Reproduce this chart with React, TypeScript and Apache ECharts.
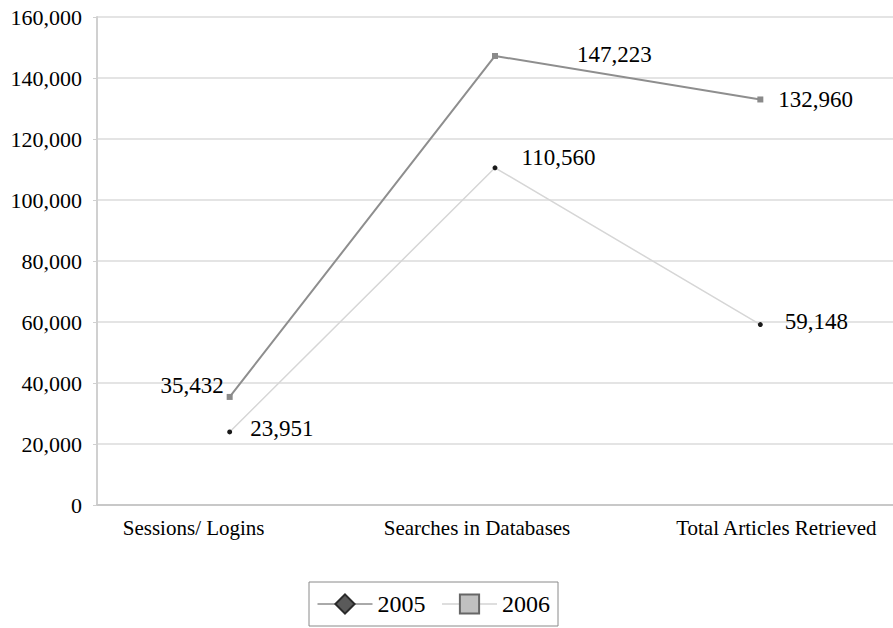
import React, { useEffect, useRef } from "react";
import * as echarts from "echarts";

const categories = ["Sessions/ Logins", "Searches in Databases", "Total Articles Retrieved"];
const values2005 = [23951, 110560, 59148];
const values2006 = [35432, 147223, 132960];
const yTicks = { min: 0, max: 160000, interval: 20000 };

const FONT = "Liberation Serif, Times New Roman, serif";

const labelPos2005 = [
  { position: "right", offset: [13, -3] },
  { position: "right", offset: [19, -10] },
  { position: "right", offset: [17, -3] },
];
const labelPos2006 = [
  { position: "left", offset: [2, -11] },
  { position: "right", offset: [74, -1] },
  { position: "right", offset: [10, 0] },
];

const fmt = (v: number) => v.toLocaleString("en-US");

export default function App() {
  const ref = useRef<HTMLDivElement>(null);
  useEffect(() => {
    if (!ref.current) return;
    const chart = echarts.init(ref.current, undefined, { renderer: "svg" });
    const labelBase = { show: true, fontFamily: FONT, fontSize: 23, color: "#000", formatter: (p: any) => fmt(p.value) };
    const catFont = { fontFamily: FONT, fontSize: 21, color: "#000" };
    chart.setOption({
      animation: false,
      backgroundColor: "#fff",
      textStyle: { fontFamily: FONT },
      grid: { left: 97, top: 17, width: 798, height: 488 },
      xAxis: {
        type: "category",
        data: categories,
        boundaryGap: true,
        axisLine: { show: true, lineStyle: { color: "#c8c8c8", width: 2 } },
        axisTick: { show: false },
        axisLabel: {
          ...catFont,
          interval: 0,
          hideOverlap: false,
          margin: 12,
          formatter: (v: string, i: number) => `{c${i}|${v}}`,
          rich: {
            c0: { ...catFont, padding: [0, 72, 0, 0] },
            c1: { ...catFont, padding: [0, 36, 0, 0] },
            c2: { ...catFont, padding: [0, 0, 0, 32] },
          },
        },
        splitLine: { show: false },
      },
      yAxis: {
        type: "value",
        min: yTicks.min,
        max: yTicks.max,
        interval: yTicks.interval,
        axisLine: { show: true, lineStyle: { color: "#d0d0d0", width: 2 } },
        axisTick: { show: true, length: 4, lineStyle: { color: "#d0d0d0" } },
        axisLabel: { fontFamily: FONT, fontSize: 22, color: "#000", margin: 15, formatter: (v: number) => fmt(v) },
        splitLine: { show: true, lineStyle: { color: "#e4e4e4", width: 2 } },
      },
      legend: {
        left: 309,
        top: 582,
        orient: "horizontal",
        padding: [10, 8, 10, 8],
        itemWidth: 55,
        itemHeight: 24,
        itemGap: 16,
        borderColor: "#8a8a8a",
        borderWidth: 1,
        textStyle: { fontFamily: FONT, fontSize: 24, color: "#000" },
        data: [
          { name: "2005", lineStyle: { color: "#555", width: 1 } },
          { name: "2006", lineStyle: { color: "#bdbdbd", width: 1 } },
        ],
      },
      series: [
        {
          name: "2005",
          type: "line",
          symbol: "diamond",
          symbolSize: 6,
          itemStyle: { color: "#5a5a5a", borderColor: "#2a2a2a", borderWidth: 1 },
          lineStyle: { color: "#d6d6d6", width: 1.5 },
          z: 2,
          data: values2005.map((v, i) => ({
            value: v,
            symbol: "circle",
            symbolSize: 5,
            itemStyle: { color: "#1a1a1a", borderWidth: 0 },
            label: { ...labelBase, ...labelPos2005[i] },
          })),
        },
        {
          name: "2006",
          type: "line",
          symbol: "rect",
          symbolSize: 6,
          itemStyle: { color: "#c0c0c0", borderColor: "#666", borderWidth: 1 },
          lineStyle: { color: "#8e8e8e", width: 2 },
          z: 3,
          data: values2006.map((v, i) => ({
            value: v,
            symbol: "rect",
            symbolSize: 6,
            itemStyle: { color: "#8a8a8a", borderWidth: 0 },
            label: { ...labelBase, ...labelPos2006[i] },
          })),
        },
      ],
    });
    return () => chart.dispose();
  }, []);
  return (
    <div
      ref={ref}
      style={{ position: "fixed", left: 0, top: 0, width: 893, height: 628, background: "#fff" }}
    />
  );
}
